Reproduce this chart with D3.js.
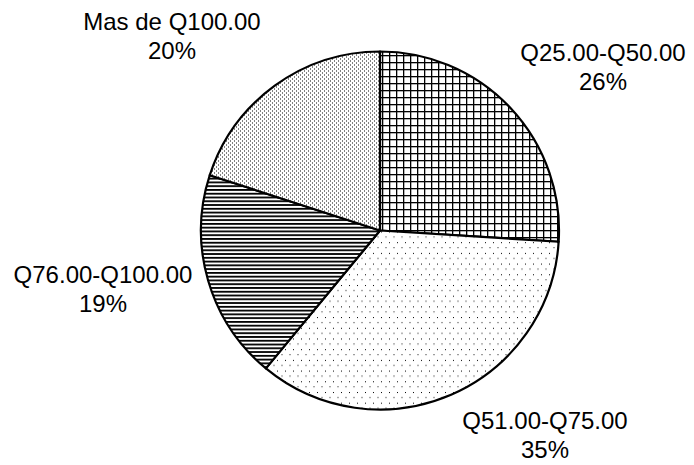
<!DOCTYPE html>
<html>
<head>
<meta charset="utf-8">
<script src="https://cdn.jsdelivr.net/npm/d3@7"></script>
<style>
  body { margin: 0; background: #fff; }
  svg { display: block; }
</style>
</head>
<body>
<div class="chart"></div>
<script>
// data
var categories = ['Q25.00-Q50.00', 'Q51.00-Q75.00', 'Q76.00-Q100.00', 'Mas de Q100.00'];
var percents = [26, 35, 19, 20];
var patterns = ['grid', 'fineDots', 'hLines', 'dots'];

var width = 694, height = 465;
var cx = 380, cy = 230.5, radius = 179;

// label anchors (hand placed like the original)
var labelPos = [[603, 61], [545, 429], [103, 283], [172, 30]];
var lineGap = 29;

var svg = d3.select('.chart')
  .append('svg')
    .attr('width', width)
    .attr('height', height);

var defs = svg.append('defs');

// grid (cross hatch)
var pGrid = defs.append('pattern')
  .attr('id', 'grid')
  .attr('patternUnits', 'userSpaceOnUse')
  .attr('x', cx).attr('y', cy)
  .attr('width', 7).attr('height', 7);
pGrid.append('rect').attr('width', 7).attr('height', 7).attr('fill', '#fff');
pGrid.append('rect').attr('width', 1.3).attr('height', 7).attr('fill', '#000');
pGrid.append('rect').attr('width', 7).attr('height', 1.3).attr('fill', '#000');

// small dots, alternating black / grey rows
var pFine = defs.append('pattern')
  .attr('id', 'fineDots')
  .attr('patternUnits', 'userSpaceOnUse')
  .attr('width', 8).attr('height', 10.7);
pFine.append('rect').attr('width', 8).attr('height', 10.7).attr('fill', '#fff');
pFine.append('rect').attr('x', 1).attr('y', 1).attr('width', 1).attr('height', 1).attr('fill', '#000');
pFine.append('rect').attr('x', 5).attr('y', 6).attr('width', 2).attr('height', 1).attr('fill', '#888');

// horizontal lines
var pLines = defs.append('pattern')
  .attr('id', 'hLines')
  .attr('patternUnits', 'userSpaceOnUse')
  .attr('width', 8).attr('height', 3.77);
pLines.append('rect').attr('width', 8).attr('height', 3.77).attr('fill', '#fff');
pLines.append('rect').attr('width', 8).attr('height', 1.8).attr('fill', '#000');

// dense dots
var pDots = defs.append('pattern')
  .attr('id', 'dots')
  .attr('patternUnits', 'userSpaceOnUse')
  .attr('width', 4).attr('height', 4);
pDots.append('rect').attr('width', 4).attr('height', 4).attr('fill', '#fff');
pDots.append('rect').attr('x', 0).attr('y', 0).attr('width', 1).attr('height', 1).attr('fill', '#000');
pDots.append('rect').attr('x', 2).attr('y', 2).attr('width', 1).attr('height', 1).attr('fill', '#000');

var data = categories.map(function(c, i) {
  return { name: c, percent: percents[i], pattern: patterns[i], label: labelPos[i] };
});

var pie = d3.pie()
  .sort(null)
  .value(function(d) { return d.percent; })
  (data);

var arc = d3.arc()
  .innerRadius(0)
  .outerRadius(radius);

var g = svg.append('g')
  .attr('transform', 'translate(' + cx + ',' + cy + ')');

g.selectAll('path')
  .data(pie)
  .enter()
  .append('path')
    .attr('d', arc)
    .attr('fill', function(d) { return 'url(#' + d.data.pattern + ')'; })
    .attr('stroke', '#000')
    .attr('stroke-width', 2.2)
    .attr('stroke-linejoin', 'round');

// labels
var labels = svg.selectAll('text.lbl')
  .data(data)
  .enter()
  .append('text')
    .attr('class', 'lbl')
    .attr('text-anchor', 'middle')
    .attr('font-family', 'Liberation Sans, Arial, sans-serif')
    .attr('font-size', 24)
    .attr('fill', '#000');

labels.append('tspan')
  .attr('x', function(d) { return d.label[0]; })
  .attr('y', function(d) { return d.label[1]; })
  .text(function(d) { return d.name; });

labels.append('tspan')
  .attr('x', function(d) { return d.label[0]; })
  .attr('y', function(d) { return d.label[1] + lineGap; })
  .text(function(d) { return d.percent + '%'; });
</script>
</body>
</html>
